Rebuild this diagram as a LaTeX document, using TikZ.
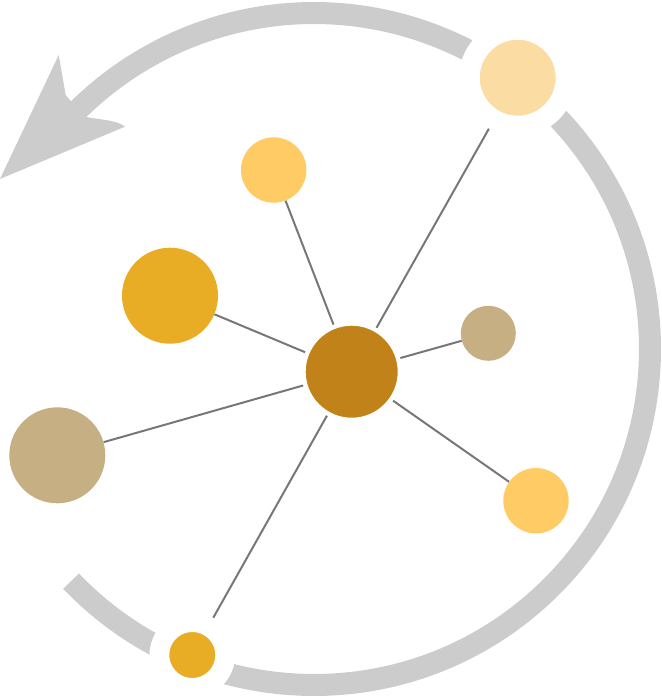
\documentclass[tikz,border=0pt]{standalone}
\usepackage{tikz}
\usetikzlibrary{calc}

\definecolor{hubbrown}{HTML}{C1821A}
\definecolor{gold}{HTML}{E8AC25}
\definecolor{tan}{HTML}{C6AF83}
\definecolor{sunny}{HTML}{FECB64}
\definecolor{pale}{HTML}{FBDCA3}
\definecolor{loopgray}{HTML}{CCCCCC}
\definecolor{spokegray}{HTML}{777777}

\begin{document}
\begin{tikzpicture}[x=1pt,y=-1pt]
\tikzstyle{dot} = [circle, inner sep=0pt, draw=none]
\tikzstyle{ringdot} = [circle, inner sep=0pt, draw=white]
\tikzstyle{spoke} = [draw=spokegray, line width=2]
\tikzstyle{loop} = [draw=loopgray, line width=22]
\useasboundingbox (0,0) rectangle (661,698);

\draw[loop] (314,349) ++(136.3:336) arc[start angle=136.3, end angle=-138, radius=336];
\fill[loopgray] (58.7,55) -- (65.7,95) -- (82.7,116)
    .. controls (96,120) and (116,119) .. (125,126.7) -- (0,179) -- cycle;

\node[ringdot, fill=hubbrown, line width=4.5, minimum size=96.5] (hub) at (351.7,371.7) {};
\node[dot, fill=sunny, minimum size=65.4] (top) at (273.7,170) {};
\node[ringdot, fill=pale, line width=20.6, minimum size=96.6] (topright) at (517.7,77.7) {};
\node[dot, fill=tan, minimum size=55] (right) at (488.3,333.3) {};
\node[dot, fill=sunny, minimum size=65.4] (lowright) at (536,500.7) {};
\node[dot, fill=gold, minimum size=96] (bigleft) at (170,295.7) {};
\node[dot, fill=tan, minimum size=96] (left) at (57.3,455.3) {};
\node[ringdot, fill=gold, line width=19.8, minimum size=65.8] (bottom) at (192.3,655) {};

\foreach \n in {top,topright,right,lowright,bigleft,left,bottom}
    \draw[spoke] (hub) -- (\n);
\end{tikzpicture}
\end{document}
